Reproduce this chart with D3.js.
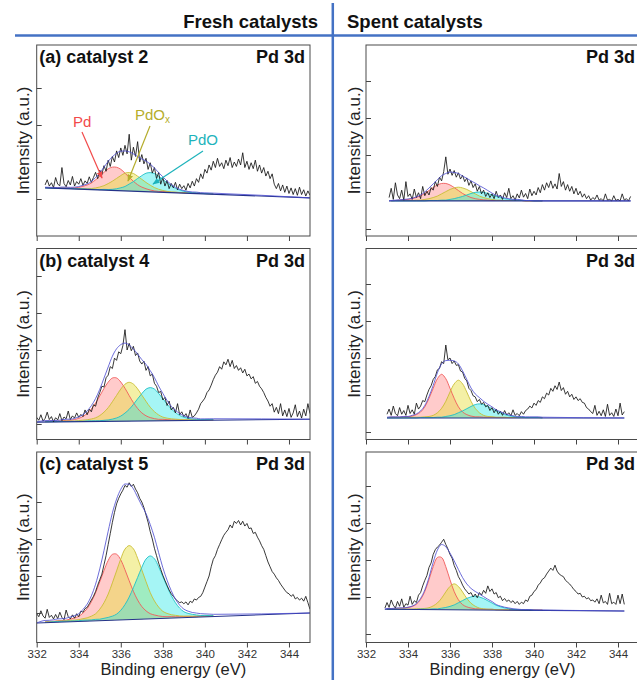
<!DOCTYPE html>
<html><head><meta charset="utf-8">
<script src="https://cdn.jsdelivr.net/npm/d3@7"></script>
<style>
body{margin:0;background:#fff}
svg{display:block}
text{font-family:"Liberation Sans",Arial,Helvetica,sans-serif}
</style>
</head><body>
<svg id="chart" width="637" height="680"></svg>
<script>
// ---------------- DATA ----------------
const columnTitles = ["Fresh catalysts", "Spent catalysts"];
const panelLabels = ["(a) catalyst 2", "(b) catalyst 4", "(c) catalyst 5"];
const coreLevel = "Pd 3d";
const componentNames = ["Pd", "PdO", "PdO"]; // Pd, PdOx (subscript x), PdO
const xTickValues = [332, 334, 336, 338, 340, 342, 344];
const xDomain = [332, 345];
const xAxisTitle = "Binding energy (eV)";
const yAxisTitle = "Intensity (a.u.)";

// binding energy grid of the measured spectra (eV)
const energy = [
332.0,332.1,332.2,332.3,332.4,332.5,332.6,332.7,332.8,332.9,
333.0,333.1,333.2,333.3,333.4,333.5,333.6,333.7,333.8,333.9,
334.0,334.1,334.2,334.3,334.4,334.5,334.6,334.7,334.8,334.9,
335.0,335.1,335.2,335.3,335.4,335.5,335.6,335.7,335.8,335.9,
336.0,336.1,336.2,336.3,336.4,336.5,336.6,336.7,336.8,336.9,
337.0,337.1,337.2,337.3,337.4,337.5,337.6,337.7,337.8,337.9,
338.0,338.1,338.2,338.3,338.4,338.5,338.6,338.7,338.8,338.9,
339.0,339.1,339.2,339.3,339.4,339.5,339.6,339.7,339.8,339.9,
340.0,340.1,340.2,340.3,340.4,340.5,340.6,340.7,340.8,340.9,
341.0,341.1,341.2,341.3,341.4,341.5,341.6,341.7,341.8,341.9,
342.0,342.1,342.2,342.3,342.4,342.5,342.6,342.7,342.8,342.9,
343.0,343.1,343.2,343.3,343.4,343.5,343.6,343.7,343.8,343.9,
344.0,344.1,344.2,344.3,344.4,344.5,344.6,344.7,344.8,344.9,
345.0];

// measured intensities (a.u.)
const freshA = [
null,null,null,null,1.38,1.52,1.35,1.44,1.31,1.58,
1.40,1.36,1.85,1.42,1.33,1.50,1.38,1.61,1.35,1.47,
1.40,1.55,1.37,1.49,1.42,1.60,1.45,1.58,1.72,1.55,
1.78,1.66,1.90,1.75,2.05,1.88,2.15,2.00,2.30,2.12,
2.38,2.18,2.45,2.22,2.75,2.05,2.40,2.15,2.55,2.00,
2.20,1.95,2.10,1.80,1.98,1.70,1.85,1.55,1.72,1.40,
1.58,1.35,1.50,1.28,1.42,1.30,1.45,1.25,1.40,1.28,
1.36,1.24,1.42,1.30,1.48,1.35,1.55,1.45,1.68,1.55,
1.80,1.70,1.92,1.78,2.02,1.85,2.10,1.88,1.98,1.82,
2.05,1.90,2.12,1.85,2.00,1.88,2.08,1.92,2.25,1.85,
2.02,1.80,1.98,1.82,2.05,1.75,1.92,1.70,1.85,1.62,
1.75,1.55,1.68,1.40,1.28,1.42,1.22,1.38,1.18,1.35,
1.15,1.30,1.12,1.28,1.10,1.32,1.12,1.25,1.08,1.22,
1.10];
const freshB = [
0.18,0.10,0.25,0.08,0.15,0.32,0.12,0.20,0.06,0.17,
0.11,0.28,0.09,0.19,0.14,0.35,0.12,0.22,0.16,0.30,
0.18,0.26,0.20,0.38,0.25,0.40,0.33,0.52,0.48,0.70,
0.85,1.02,1.00,1.25,1.32,1.55,1.50,1.78,1.72,1.95,
1.90,2.12,2.55,2.00,2.18,1.98,2.10,1.85,1.92,1.70,
1.62,1.70,1.45,1.55,1.30,1.35,1.10,1.02,0.85,0.88,
0.65,0.72,0.50,0.62,0.38,0.45,0.30,0.55,0.25,0.33,
0.20,0.28,0.15,0.38,0.18,0.22,0.30,0.40,0.55,0.62,
0.70,0.85,0.92,1.05,1.20,1.32,1.40,1.55,1.48,1.68,
1.60,1.75,1.55,1.72,1.50,1.58,1.45,1.52,1.38,1.48,
1.30,1.35,1.22,1.28,1.10,1.15,1.02,0.95,0.85,0.72,
0.62,0.48,0.55,0.32,0.45,0.28,0.55,0.22,0.38,0.20,
0.42,0.18,0.30,0.52,0.20,0.35,0.16,0.40,0.22,0.55,
0.28];
const freshC = [
-0.02,-0.10,0.06,-0.08,-0.14,0.10,-0.12,-0.06,-0.16,-0.04,
-0.15,0.02,-0.12,-0.18,0.08,-0.10,-0.16,-0.05,-0.14,-0.02,
-0.10,0.05,0.02,0.12,0.15,0.25,0.35,0.45,0.58,0.75,
0.90,1.05,1.30,1.55,1.85,2.15,2.45,2.72,2.95,3.10,
3.22,3.32,3.45,3.40,3.52,3.42,3.48,3.35,3.25,3.10,
3.00,2.85,2.65,2.45,2.20,2.00,1.75,1.55,1.35,1.18,
1.02,0.88,0.75,0.62,0.52,0.45,0.38,0.32,0.28,0.30,
0.25,0.30,0.22,0.32,0.28,0.38,0.35,0.42,0.45,0.55,
0.70,0.85,1.00,1.25,1.45,1.55,1.72,1.85,1.98,2.10,
2.18,2.25,2.38,2.30,2.48,2.42,2.50,2.38,2.48,2.35,
2.42,2.28,2.30,2.15,2.18,2.05,1.95,1.82,1.72,1.55,
1.38,1.25,1.12,1.05,0.95,0.88,0.78,0.70,0.62,0.55,
0.52,0.45,0.50,0.38,0.42,0.35,0.40,0.32,0.45,0.28,
0.10];
const spentA = [
null,null,null,null,null,null,null,null,null,null,
null,0.85,1.10,0.80,1.25,0.92,0.82,1.05,0.78,1.28,
0.88,0.95,0.80,1.08,0.85,0.98,0.82,1.15,0.90,1.02,
0.92,1.12,1.05,1.28,1.15,1.40,1.30,1.55,1.95,1.48,
1.62,1.45,1.58,1.40,1.52,1.35,1.45,1.28,1.38,1.18,
1.30,1.12,1.22,1.02,1.15,0.95,1.05,0.88,0.98,0.85,
0.95,0.82,1.02,0.85,0.92,0.80,0.98,0.85,1.10,0.82,
0.90,0.78,0.95,0.84,1.05,0.86,0.96,0.82,1.08,0.90,
1.02,0.92,1.12,0.98,1.20,1.05,1.25,1.12,1.30,1.10,
1.22,1.08,1.50,1.15,1.28,1.05,1.20,1.02,1.15,0.95,
1.10,0.92,1.02,0.86,0.95,0.82,0.90,0.78,0.85,0.80,
0.92,0.78,0.82,0.76,0.95,0.78,0.80,0.76,0.90,0.77,
0.80,0.76,0.95,0.78,0.82,0.76,0.88,null,null,null,
null];
const spentB = [
null,null,null,null,null,null,null,null,null,null,
0.48,0.62,0.45,0.70,0.50,0.44,0.66,0.48,0.58,0.45,
0.72,0.50,0.60,0.48,0.78,0.62,0.70,0.85,0.82,1.00,
1.15,1.25,1.42,1.50,1.68,1.72,1.90,1.85,2.35,1.95,
2.00,1.85,1.92,1.80,1.82,1.65,1.62,1.45,1.38,1.18,
1.12,0.98,0.95,0.82,0.88,0.75,0.80,0.68,0.72,0.58,
0.66,0.52,0.62,0.48,0.56,0.45,0.58,0.46,0.52,0.44,
0.60,0.45,0.50,0.44,0.55,0.48,0.58,0.62,0.70,0.65,
0.78,0.72,0.85,0.80,0.95,0.90,1.05,1.00,1.18,1.10,
1.25,1.15,1.35,1.12,1.20,1.02,1.10,0.95,1.02,0.88,
0.95,0.85,0.90,0.80,0.78,0.66,0.62,0.55,0.50,0.72,
0.45,0.56,0.44,0.60,0.42,0.75,0.45,0.52,0.42,0.62,
0.44,0.78,0.46,0.55,null,null,null,null,null,null,
null];
const spentC = [
null,null,null,null,null,null,null,null,null,0.70,
0.85,0.72,0.92,0.78,0.70,0.88,0.75,0.95,0.72,0.82,
0.78,1.02,0.80,0.90,0.85,1.05,1.12,1.30,1.45,1.58,
1.80,1.92,2.15,2.28,2.35,2.40,2.48,2.56,2.42,2.30,
2.15,2.05,1.85,1.72,1.55,1.45,1.32,1.22,1.15,1.08,
1.12,1.00,1.08,0.98,1.12,1.05,1.18,1.10,1.30,1.15,
1.22,1.08,1.12,0.98,1.02,0.90,0.96,0.88,0.92,0.85,
0.90,0.82,0.88,0.80,0.86,0.82,0.92,0.88,1.02,1.05,
1.15,1.20,1.32,1.38,1.48,1.52,1.62,1.70,1.78,1.72,
1.86,1.70,1.62,1.58,1.55,1.45,1.40,1.35,1.28,1.20,
1.15,1.08,1.10,1.00,1.02,0.95,0.98,0.90,0.92,0.86,
0.95,0.82,1.05,0.84,0.88,0.80,1.10,0.82,0.86,0.80,
1.05,0.82,1.08,0.80,null,null,null,null,null,null,
null];

// fitted backgrounds: [energy, intensity] end points
const freshA_bg = [[332.4, 1.30], [345.0, 1.03]];
const freshB_bg = [[332.0, 0.05], [345.0, 0.13]];
const freshC_bg = [[332.0, -0.27], [345.0, 0.00]];
const spentA_bg = [[333.1, 0.76], [344.6, 0.76]];
const spentB_bg = [[333.0, 0.38], [344.3, 0.38]];
const spentC_bg = [[332.9, 0.67], [344.3, 0.62]];

// energy grid of the fitted components (eV)
const compEnergy = [
332.4,332.6,332.8,333.0,333.2,333.4,333.6,333.8,334.0,334.2,
334.4,334.6,334.8,335.0,335.2,335.4,335.6,335.8,336.0,336.2,
336.4,336.6,336.8,337.0,337.2,337.4,337.6,337.8,338.0,338.2,
338.4,338.6,338.8,339.0,339.2,339.4,339.6,339.8,340.0,340.2,
340.4];

// fitted components, intensity above background
const freshA_Pd = [
.01,.01,.01,.01,.02,.02,.02,.03,.05,.08,
.12,.18,.27,.37,.48,.58,.63,.63,.58,.48,
.37,.27,.18,.12,.08,.05,.03,.02,.02,.02,
.01,.01,.01,.01,.01,.01,.01,.01,.01,.01,.01];
const freshA_PdOx = [
.01,.01,.01,.01,.01,.01,.01,.01,.01,.02,
.02,.03,.05,.08,.12,.18,.25,.33,.41,.48,
.50,.48,.41,.33,.25,.18,.12,.08,.05,.03,
.02,.02,.01,.01,.01,.01,.01,.01,.01,.01,.01];
const freshA_PdO = [
.00,.00,.00,.00,.01,.01,.01,.01,.01,.01,
.01,.01,.01,.01,.02,.02,.03,.05,.08,.12,
.19,.26,.35,.43,.50,.52,.50,.43,.35,.26,
.19,.12,.08,.05,.03,.02,.02,.01,.01,.01,.01];

const freshB_Pd = [
.02,.02,.02,.02,.03,.04,.04,.06,.09,.14,
.22,.34,.50,.69,.89,1.06,1.17,1.17,1.06,.89,
.69,.50,.34,.22,.14,.09,.06,.04,.04,.03,
.02,.02,.02,.02,.01,.01,.01,.01,.01,.01,.01];
const freshB_PdOx = [
.01,.01,.01,.01,.02,.02,.02,.02,.03,.04,
.05,.07,.10,.16,.25,.37,.53,.70,.87,1.00,
1.05,1.00,.87,.70,.53,.37,.25,.16,.10,.07,
.05,.04,.03,.02,.02,.02,.02,.01,.01,.01,.01];
const freshB_PdO = [
.01,.01,.01,.01,.01,.01,.01,.01,.01,.01,
.02,.02,.02,.02,.03,.04,.06,.09,.14,.22,
.32,.45,.60,.74,.86,.90,.86,.74,.60,.45,
.32,.22,.14,.09,.06,.04,.03,.02,.02,.02,.02];

const freshC_Pd = [
.03,.03,.03,.04,.04,.05,.07,.10,.14,.22,
.34,.52,.76,1.05,1.35,1.62,1.78,1.78,1.62,1.35,
1.05,.76,.52,.34,.22,.14,.10,.07,.05,.04,
.04,.03,.03,.03,.02,.02,.02,.02,.02,.02,.01];
const freshC_PdOx = [
.02,.02,.02,.03,.03,.03,.04,.04,.05,.07,
.09,.13,.19,.31,.48,.71,1.01,1.33,1.65,1.91,
2.00,1.91,1.65,1.33,1.01,.71,.48,.31,.19,.13,
.09,.07,.05,.04,.04,.03,.03,.03,.02,.02,.02];
const freshC_PdO = [
.01,.01,.02,.02,.02,.02,.02,.02,.02,.03,
.03,.03,.04,.04,.06,.08,.11,.16,.26,.41,
.61,.86,1.13,1.40,1.62,1.70,1.62,1.40,1.13,.86,
.61,.41,.26,.16,.11,.08,.06,.04,.04,.03,.03];

const spentA_Pd = [
.01,.01,.01,.01,.01,.01,.02,.03,.04,.06,
.09,.14,.20,.28,.36,.43,.47,.47,.43,.36,
.28,.20,.14,.09,.06,.04,.03,.02,.01,.01,
.01,.01,.01,.01,.01,.01,.00,.00,.00,.00,.00];
const spentA_PdOx = [
.00,.00,.00,.00,.00,.01,.01,.01,.01,.01,
.02,.02,.04,.06,.09,.13,.19,.25,.31,.35,
.37,.35,.31,.25,.19,.13,.09,.06,.04,.02,
.02,.01,.01,.01,.01,.01,.00,.00,.00,.00,.00];
const spentA_PdO = [
.00,.00,.00,.00,.00,.00,.00,.00,.00,.00,
.00,.00,.00,.01,.01,.01,.02,.02,.04,.06,
.09,.12,.16,.20,.23,.24,.23,.20,.16,.12,
.09,.06,.04,.02,.02,.01,.01,.01,.00,.00,.00];

const spentB_Pd = [
.01,.01,.01,.01,.02,.02,.02,.03,.03,.05,
.09,.16,.30,.53,.80,1.06,1.18,1.06,.80,.53,
.30,.16,.09,.05,.03,.03,.02,.02,.02,.01,
.01,.01,.01,.01,.01,.01,.01,.01,.01,.01,.01];
const spentB_PdOx = [
.01,.01,.01,.01,.01,.01,.01,.01,.01,.02,
.02,.02,.03,.04,.07,.14,.26,.45,.70,.92,
1.02,.92,.70,.45,.26,.14,.07,.04,.03,.02,
.02,.02,.01,.01,.01,.01,.01,.01,.01,.01,.01];
const spentB_PdO = [
.00,.00,.00,.00,.00,.00,.00,.00,.00,.00,
.00,.01,.01,.01,.01,.02,.02,.04,.06,.09,
.14,.19,.25,.31,.36,.38,.36,.31,.25,.19,
.14,.09,.06,.04,.02,.02,.01,.01,.01,.01,.00];

const spentC_Pd = [
.01,.01,.01,.02,.02,.02,.03,.03,.05,.08,
.14,.27,.49,.81,1.16,1.41,1.41,1.16,.81,.49,
.27,.14,.08,.05,.03,.03,.02,.02,.02,.01,
.01,.01,.01,.01,.01,.01,.01,.01,.01,.01,.01];
const spentC_PdOx = [
.00,.00,.00,.00,.00,.01,.01,.01,.01,.01,
.02,.02,.03,.05,.10,.18,.31,.48,.63,.70,
.63,.48,.31,.18,.10,.05,.03,.02,.02,.01,
.01,.01,.01,.01,.00,.00,.00,.00,.00,.00,.00];
const spentC_PdO = [
.00,.00,.00,.00,.00,.00,.00,.00,.00,.00,
.00,.01,.01,.01,.02,.02,.04,.06,.09,.13,
.19,.25,.31,.35,.37,.35,.31,.25,.19,.13,
.09,.06,.04,.02,.02,.01,.01,.01,.00,.00,.00];

// unlabeled y tick values of each panel
const yTicksFreshA = [1, 2, 3, 4];
const yTicksFreshB = [0, 1, 2, 3, 4];
const yTicksFreshC = [0, 1, 2, 3];
const yTicksSpent = [0, 1, 2, 3, 4];

// ---------------- LAYOUT / STYLE ----------------
const PX_PER_UNIT = 37;
const cols = [{x0: 36.7, x1: 310, ylab: 28.5, pdRight: 305},
              {x0: 366, x1: 639, ylab: 359.5, pdRight: 635}];
const rows = [{top: 45, bottom: 236}, {top: 248.5, bottom: 439.5}, {top: 452, bottom: 642.5}];
const compFill = ["rgba(255,110,110,0.36)", "rgba(232,222,60,0.46)", "rgba(40,230,232,0.42)"];
const compStroke = ["#f05a5a", "#c9bd35", "#1fbfc6"];

const panels = [
  {col: 0, row: 0, zero: 236, spec: freshA, bg: freshA_bg, comps: [freshA_Pd, freshA_PdOx, freshA_PdO], yt: yTicksFreshA, label: panelLabels[0]},
  {col: 0, row: 1, zero: 424, spec: freshB, bg: freshB_bg, comps: [freshB_Pd, freshB_PdOx, freshB_PdO], yt: yTicksFreshB, label: panelLabels[1]},
  {col: 0, row: 2, zero: 613, spec: freshC, bg: freshC_bg, comps: [freshC_Pd, freshC_PdOx, freshC_PdO], yt: yTicksFreshC, label: panelLabels[2]},
  {col: 1, row: 0, zero: 229, spec: spentA, bg: spentA_bg, comps: [spentA_Pd, spentA_PdOx, spentA_PdO], yt: yTicksSpent, label: null},
  {col: 1, row: 1, zero: 432, spec: spentB, bg: spentB_bg, comps: [spentB_Pd, spentB_PdOx, spentB_PdO], yt: yTicksSpent, label: null},
  {col: 1, row: 2, zero: 634, spec: spentC, bg: spentC_bg, comps: [spentC_Pd, spentC_PdOx, spentC_PdO], yt: yTicksSpent, label: null}
];

const svg = d3.select("#chart");
const defs = svg.append("defs");

// header
svg.append("text").attr("x", 318).attr("y", 28).attr("text-anchor", "end")
  .attr("font-size", 18.5).attr("font-weight", "bold").attr("fill", "#111").text(columnTitles[0]);
svg.append("text").attr("x", 347).attr("y", 28).attr("text-anchor", "start")
  .attr("font-size", 18.5).attr("font-weight", "bold").attr("fill", "#111").text(columnTitles[1]);
svg.append("line").attr("x1", 15).attr("x2", 637).attr("y1", 35.5).attr("y2", 35.5)
  .attr("stroke", "#4472c4").attr("stroke-width", 2.5);
svg.append("line").attr("x1", 332.8).attr("x2", 332.8).attr("y1", 3).attr("y2", 680)
  .attr("stroke", "#4472c4").attr("stroke-width", 2.5);

panels.forEach((p, pi) => {
  const c = cols[p.col], r = rows[p.row];
  const x = d3.scaleLinear().domain(xDomain).range([c.x0, c.x1]);
  const y = d3.scaleLinear()
    .domain([(p.zero - r.bottom) / PX_PER_UNIT, (p.zero - r.top) / PX_PER_UNIT])
    .range([r.bottom, r.top]);
  const bgScale = d3.scaleLinear().domain([p.bg[0][0], p.bg[1][0]]).range([p.bg[0][1], p.bg[1][1]]);

  const clipId = "clip" + pi;
  defs.append("clipPath").attr("id", clipId).append("rect")
    .attr("x", c.x0).attr("y", r.top).attr("width", c.x1 - c.x0).attr("height", r.bottom - r.top);
  const g = svg.append("g").attr("clip-path", `url(#${clipId})`);

  // component points inside the background range
  const idx = compEnergy.map((e, i) => i).filter(i => compEnergy[i] >= p.bg[0][0] - 1e-9 && compEnergy[i] <= p.bg[1][0] + 1e-9);

  p.comps.forEach((comp, k) => {
    const area = d3.area().curve(d3.curveCatmullRom)
      .x(i => x(compEnergy[i]))
      .y0(i => y(bgScale(compEnergy[i])))
      .y1(i => y(bgScale(compEnergy[i]) + comp[i]));
    g.append("path").datum(idx).attr("d", area).attr("fill", compFill[k]).attr("stroke", "none");
  });
  p.comps.forEach((comp, k) => {
    const line = d3.line().curve(d3.curveCatmullRom)
      .x(i => x(compEnergy[i]))
      .y(i => y(bgScale(compEnergy[i]) + comp[i]));
    g.append("path").datum(idx).attr("d", line).attr("fill", "none")
      .attr("stroke", compStroke[k]).attr("stroke-width", 0.9);
  });

  // background
  g.append("path").datum(p.bg)
    .attr("d", d3.line().x(d => x(d[0])).y(d => y(d[1])))
    .attr("fill", "none").attr("stroke", "#25338a").attr("stroke-width", 1.1);

  // measured spectrum
  const specPts = energy.map((e, i) => [e, p.spec[i]]).filter(d => d[1] !== null);
  g.append("path").datum(specPts)
    .attr("d", d3.line().x(d => x(d[0])).y(d => y(d[1])))
    .attr("fill", "none").attr("stroke", "#151515").attr("stroke-width", 0.85);

  // envelope = background + sum of components, continued along the background
  const envPts = idx.map(i => [compEnergy[i], bgScale(compEnergy[i]) + p.comps[0][i] + p.comps[1][i] + p.comps[2][i]]);
  if (envPts[0][0] > p.bg[0][0] + 1e-9) envPts.unshift([p.bg[0][0], p.bg[0][1]]);
  envPts.push([p.bg[1][0], p.bg[1][1]]);
  g.append("path").datum(envPts)
    .attr("d", d3.line().curve(d3.curveMonotoneX).x(d => x(d[0])).y(d => y(d[1])))
    .attr("fill", "none").attr("stroke", "#4a4ad0").attr("stroke-width", 0.9).attr("stroke-opacity", 0.9);

  // axes
  const ya = svg.append("g").attr("transform", `translate(${c.x0},0)`)
    .call(d3.axisLeft(y).tickValues(p.yt).tickSize(-5).tickFormat(""));
  ya.select(".domain").remove();
  ya.selectAll("line").attr("stroke", "#444");

  const xa = svg.append("g").attr("transform", `translate(0,${r.bottom})`)
    .call(d3.axisBottom(x).tickValues(xTickValues).tickSize(5).tickPadding(2)
      .tickFormat(p.row === 2 ? d3.format("d") : ""));
  xa.select(".domain").remove();
  xa.selectAll("line").attr("stroke", "#444");
  xa.selectAll("text").attr("font-size", 11.5).attr("fill", "#333")
    .attr("font-family", '"Liberation Sans", Arial, sans-serif');

  // frame
  svg.append("rect").attr("x", c.x0).attr("y", r.top)
    .attr("width", c.x1 - c.x0).attr("height", r.bottom - r.top)
    .attr("fill", "none").attr("stroke", "#4a4a4a").attr("stroke-width", 1);

  // texts
  if (p.label) {
    svg.append("text").attr("x", c.x0 + 2.5).attr("y", r.top + 18)
      .attr("font-size", 18).attr("font-weight", "bold").attr("fill", "#111").text(p.label);
  }
  svg.append("text").attr("x", c.pdRight).attr("y", r.top + 18).attr("text-anchor", "end")
    .attr("font-size", 18).attr("font-weight", "bold").attr("fill", "#111").text(coreLevel);
  svg.append("text")
    .attr("transform", `translate(${c.ylab},${(r.top + r.bottom) / 2}) rotate(-90)`)
    .attr("text-anchor", "middle").attr("font-size", 17).attr("fill", "#222").text(yAxisTitle);
  if (p.row === 2) {
    svg.append("text").attr("x", (c.x0 + c.x1) / 2).attr("y", 675)
      .attr("text-anchor", "middle").attr("font-size", 16.5).attr("fill", "#222").text(xAxisTitle);
  }
});

// annotations in panel (a)
const annColors = ["#f24a4a", "#b5ad2c", "#1db3bb"];
annColors.forEach((col, k) => {
  defs.append("marker").attr("id", "arr" + k).attr("viewBox", "0 0 10 10")
    .attr("refX", 9).attr("refY", 5).attr("markerWidth", 7).attr("markerHeight", 7)
    .attr("orient", "auto").attr("markerUnits", "userSpaceOnUse")
    .append("path").attr("d", "M0,1 L10,5 L0,9 Z").attr("fill", col);
});
const ann = [
  {text: componentNames[0], sub: "", tx: 73, ty: 127, from: [82, 132], to: [102, 178]},
  {text: componentNames[1], sub: "x", tx: 135, ty: 120, from: [150, 126], to: [128, 181]},
  {text: componentNames[2], sub: "", tx: 188, ty: 145, from: [203, 151], to: [153, 184]}
];
ann.forEach((a, k) => {
  const t = svg.append("text").attr("x", a.tx).attr("y", a.ty).attr("font-size", 15)
    .attr("fill", annColors[k]).text(a.text);
  if (a.sub) t.append("tspan").attr("font-size", 10).attr("dy", 3).text(a.sub);
  svg.append("line").attr("x1", a.from[0]).attr("y1", a.from[1]).attr("x2", a.to[0]).attr("y2", a.to[1])
    .attr("stroke", annColors[k]).attr("stroke-width", 1.2).attr("marker-end", `url(#arr${k})`);
});
</script>
</body></html>
